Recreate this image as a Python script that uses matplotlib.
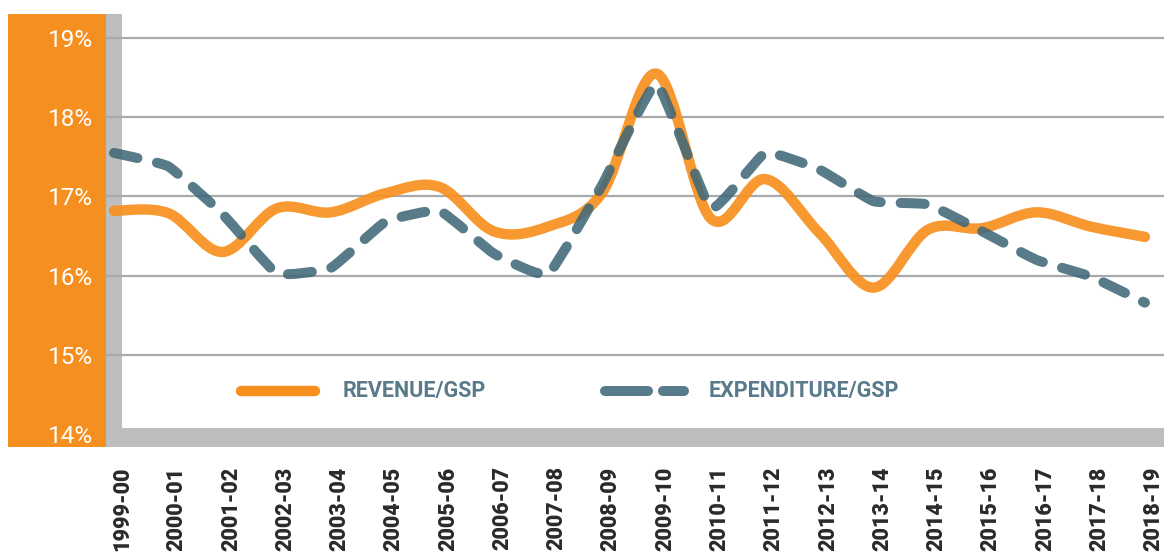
import matplotlib
matplotlib.use("Agg")
import matplotlib.pyplot as plt
from matplotlib.path import Path
from matplotlib.patches import PathPatch, Rectangle
from matplotlib.lines import Line2D
from matplotlib.transforms import ScaledTranslation
import numpy as np

# ---------------- data ----------------
years = ["1999-00", "2000-01", "2001-02", "2002-03", "2003-04", "2004-05",
         "2005-06", "2006-07", "2007-08", "2008-09", "2009-10", "2010-11",
         "2011-12", "2012-13", "2013-14", "2014-15", "2015-16", "2016-17",
         "2017-18", "2018-19"]
revenue = [16.82, 16.79, 16.30, 16.85, 16.80, 17.04, 17.12, 16.56, 16.62, 17.05,
           18.55, 16.72, 17.22, 16.54, 15.85, 16.58, 16.60, 16.80, 16.62, 16.49]
expenditure = [17.55, 17.38, 16.78, 16.03, 16.10, 16.68, 16.82, 16.28, 16.02, 17.15,
               18.42, 16.85, 17.55, 17.34, 16.94, 16.90, 16.56, 16.20, 15.99, 15.66]
y_ticks = [14, 15, 16, 17, 18, 19]
y_labels = ["14%", "15%", "16%", "17%", "18%", "19%"]
legend_labels = ["REVENUE/GSP", "EXPENDITURE/GSP"]

ORANGE = "#F58F1F"
LINE_ORANGE = "#F7901E"
BLUE = "#3F6778"
GRAY_BAND = "#BDBEC0"
GRID = "#A9AAAC"
LEGEND_TEXT = "#587A8A"

W, H = 1165, 556
fig = plt.figure(figsize=(W / 100, H / 100), dpi=100)


def fx(px):
    return px / W


def fy(py):
    return 1 - py / H


# orange band on the left
fig.add_artist(Rectangle((fx(8), fy(447)), fx(106) - fx(8), (447 - 14) / H,
                         transform=fig.transFigure, facecolor=ORANGE,
                         edgecolor="none", zorder=0))

ax = fig.add_axes([fx(106), fy(447), (1164 - 106) / W, (447 - 14) / H])
ax.set_facecolor("white")

step = 54.26
x0px = 114
xmin = -(x0px - 106) / step
xmax = (1164 - x0px) / step
ax.set_xlim(xmin, xmax)
ppu = 79.2
y0 = 14 + (434.2 - 447) / ppu
y1 = 19 + (38 - 14) / ppu
ax.set_ylim(y0, y1)

# gray frame bands
ax.axvspan(xmin, -(x0px - 122) / step, color=GRAY_BAND, lw=0, zorder=0.5)
ax.axhspan(y0, 14 + (434.2 - 428) / ppu, color=GRAY_BAND, lw=0, zorder=6)

for v in y_ticks[1:]:
    ax.axhline(v, color=GRID, lw=1.6, zorder=1)

for s in ax.spines.values():
    s.set_visible(False)

x = np.arange(len(years))


def smooth_path(xs, ys, t):
    pts = np.column_stack([xs, ys]).astype(float)
    n = len(pts)
    verts = [pts[0]]
    codes = [Path.MOVETO]
    for i in range(n - 1):
        p0 = pts[i - 1] if i > 0 else pts[i]
        p1 = pts[i]
        p2 = pts[i + 1]
        p3 = pts[i + 2] if i + 2 < n else pts[i + 1]
        c1 = p1 + (p2 - p0) * t
        c2 = p2 - (p3 - p1) * t
        verts += [c1, c2, p2]
        codes += [Path.CURVE4] * 3
    return Path(verts, codes)


ax.add_patch(PathPatch(smooth_path(x, revenue, 1 / 6), fill=False,
                       edgecolor=LINE_ORANGE, lw=7.5, capstyle="round",
                       joinstyle="round", alpha=0.92, zorder=2))
ax.add_patch(PathPatch(smooth_path(x, expenditure, 0.06), fill=False,
                       edgecolor=BLUE, lw=7.2, capstyle="round",
                       joinstyle="round", linestyle=(0, (2.4, 2.0)),
                       alpha=0.87, zorder=3))

# ticks
ax.set_yticks(y_ticks)
ax.set_yticklabels(y_labels, color="white", fontsize=17.5,
                   family=["Roboto", "DejaVu Sans"])
ax.set_xticks(x)
ax.set_xticklabels(years, rotation=90, fontsize=15.5, fontweight="heavy",
                   color="#2a2a2a", family=["Roboto", "DejaVu Sans"])
ax.tick_params(axis="y", length=0, pad=9.4)
ax.tick_params(axis="x", length=0, pad=14)
offset = ScaledTranslation(8.5 / 100, 0, fig.dpi_scale_trans)
for lab in ax.get_xticklabels():
    lab.set_transform(lab.get_transform() + offset)

# legend (manual)
ly = fy(391)
fig.add_artist(Line2D([fx(241), fx(315)], [ly, ly], transform=fig.transFigure,
                      color=LINE_ORANGE, lw=7.5, solid_capstyle="round", zorder=5))
fig.add_artist(Line2D([fx(605), fx(684)], [ly, ly], transform=fig.transFigure,
                      color=BLUE, lw=7.2, alpha=0.87, dash_capstyle="round",
                      linestyle=(0, (4.3, 1.5)), zorder=5))
fig.text(fx(343), ly, legend_labels[0], color=LEGEND_TEXT, fontsize=15.5,
         fontweight="bold", va="center", ha="left",
         family=["Roboto", "DejaVu Sans"])
fig.text(fx(709), ly, legend_labels[1], color=LEGEND_TEXT, fontsize=15.5,
         fontweight="bold", va="center", ha="left",
         family=["Roboto", "DejaVu Sans"])

fig.savefig("out.png", dpi=100, facecolor="white")
